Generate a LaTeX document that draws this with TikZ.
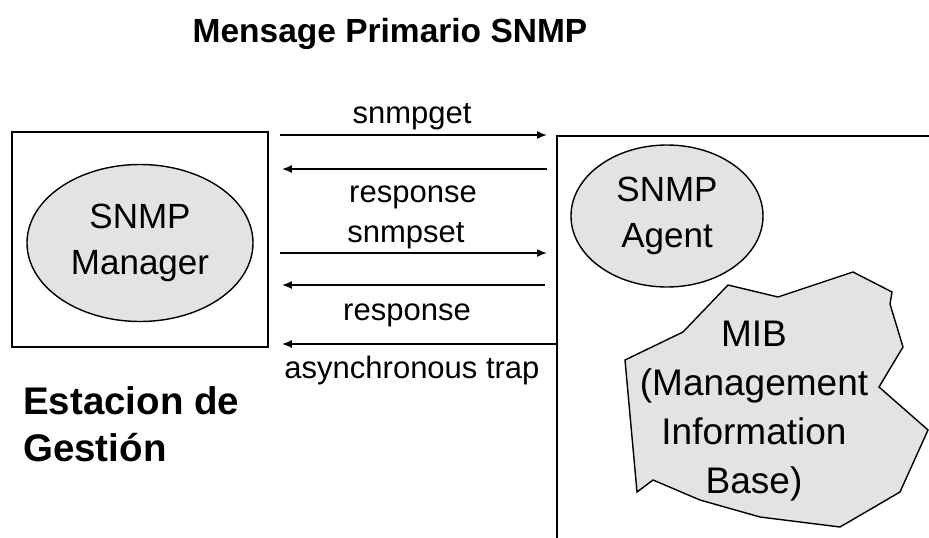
\documentclass[tikz,border=0pt]{standalone}
\usepackage{fontspec}
\setmainfont{Liberation Sans}
\usetikzlibrary{arrows.meta,shapes.geometric}
\definecolor{bubblegray}{gray}{0.89}
\begin{document}
\begin{tikzpicture}[x=1pt,y=-1pt,
  box/.style={draw=black, line width=1.8pt, inner sep=0pt},
  bubble/.style={ellipse, draw=black, line width=1.4pt, fill=bubblegray,
    inner sep=0pt, align=center, font=\fontsize{35}{46}\selectfont},
  msg/.style={line width=1.6pt, -{Latex[length=10pt,width=8pt]}},
  lbl/.style={anchor=base, inner sep=0pt, font=\fontsize{31}{36}\selectfont},
]
\useasboundingbox (0,0) rectangle (929,538);
\clip (0,0) rectangle (929,538);

% title
\node[anchor=base, inner sep=0pt, font=\bfseries\fontsize{33.5}{38}\selectfont]
  (title) at (390,42) {Mensage Primario SNMP};

% management station
\node[box, minimum width=256pt, minimum height=215pt] (mgrbox) at (140,239.5) {};
\node[bubble, minimum width=226pt, minimum height=157pt] (manager) at (140,243)
  {SNMP\\Manager};
\node[anchor=north west, align=left, inner sep=0pt,
  font=\bfseries\fontsize{38.5}{47}\selectfont] (station) at (23,386)
  {Estacion de\\Gesti\'on};

% managed device
\node[box, line width=1.5pt, minimum width=380pt, minimum height=420pt,
  anchor=north west] (agtbox) at (556,135) {};
\node[bubble, minimum width=192pt, minimum height=142pt] (agent) at (667,216)
  {SNMP\\Agent};
\draw[line width=1.4pt, fill=bubblegray, line join=miter]
  (728,285) -- (778,297) -- (853,272) -- (892,292) -- (890,304) -- (903,347)
  -- (879,387) -- (928,430) -- (900,492) -- (840,527) -- (760,517)
  -- (700,500) -- (653,480) -- (637,492) -- (625,360) -- (683,332) -- cycle;
\node[anchor=north, align=center, inner sep=0pt,
  font=\fontsize{37}{49}\selectfont] (mib) at (754,321)
  {MIB\\(Management\\Information\\Base)};

% message levels
\coordinate (m1) at (0,135);
\coordinate (m2) at (0,169);
\coordinate (m3) at (0,253);
\coordinate (m4) at (0,285);
\coordinate (m5) at (0,344);

\draw[msg, shorten <=11pt, shorten >=9pt] (mgrbox.east |- m1) -- (agtbox.west |- m1);
\draw[msg, shorten <=9pt, shorten >=13pt] (agtbox.west |- m2) -- (mgrbox.east |- m2);
\draw[msg, shorten <=11pt, shorten >=9pt] (mgrbox.east |- m3) -- (agtbox.west |- m3);
\draw[msg, shorten <=11pt, shorten >=13pt] (agtbox.west |- m4) -- (mgrbox.east |- m4);
\draw[msg, shorten >=13pt] (agtbox.west |- m5) -- (mgrbox.east |- m5);

\node[lbl] (getlbl) at (412,123) {snmpget};
\node[lbl] (resp1) at (413,202) {response};
\node[lbl] (setlbl) at (406,242) {snmpset};
\node[lbl] (resp2) at (407,320) {response};
\node[lbl] (traplbl) at (412,378) {asynchronous trap};
\end{tikzpicture}
\end{document}
